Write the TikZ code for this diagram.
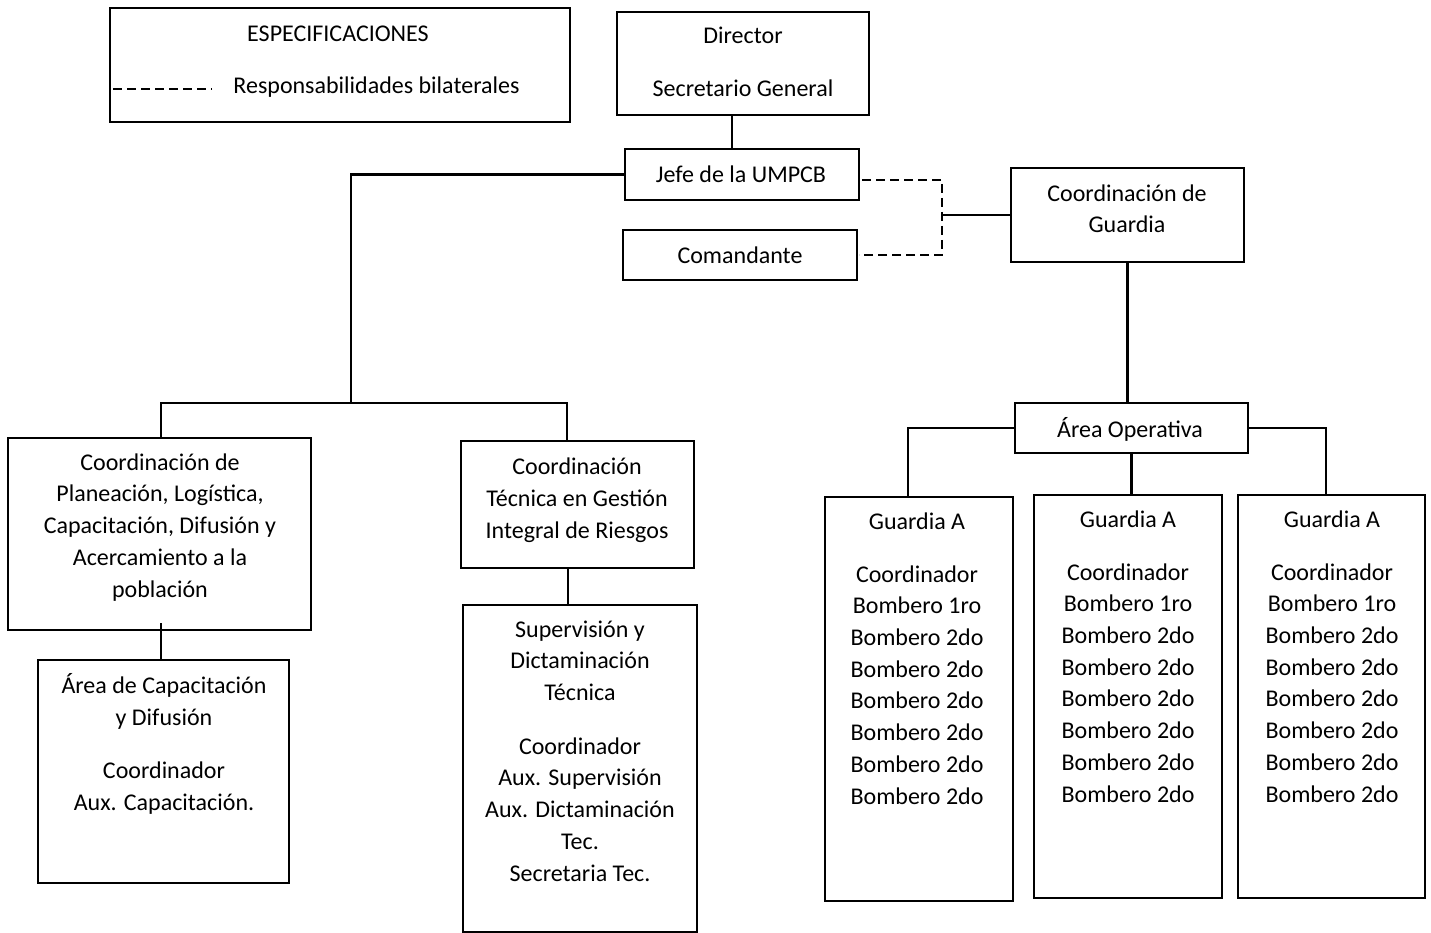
\documentclass[tikz,border=0pt]{standalone}
\usepackage{fontspec}
\setmainfont{Carlito}
\usetikzlibrary{calc}
\newcommand\mkbox[5]{\node[box, minimum width={#4-#2}, minimum height={#5-#3}] (#1) at ({(#2+#4)/2},{(#3+#5)/2}) {};}
\begin{document}
\begin{tikzpicture}[x=1pt,y=-1pt,
  box/.style={draw, line width=1.6pt, inner sep=0pt, outer sep=0pt},
  txt/.style={align=center, font=\fontsize{24}{31.7}\selectfont, inner sep=0pt, anchor=base},
  conn/.style={line width=2.2pt},
  dsh/.style={line width=1.6pt, dash pattern=on 9pt off 5pt}]
\fill[white] (0,0) rectangle (1431,933);
\useasboundingbox (0,0) rectangle (1431,933);

% boxes
\mkbox{spec}{110}{8}{570}{122}
\mkbox{dir}{617}{12}{869}{115}
\mkbox{jefe}{625}{149}{859}{200}
\mkbox{com}{623}{230}{857}{280}
\mkbox{cg}{1011}{168}{1244}{262}
\mkbox{ao}{1015}{403}{1248}{453}
\mkbox{g1}{825}{497}{1013}{901}
\mkbox{g2}{1034}{495}{1222}{898}
\mkbox{g3}{1238}{495}{1425}{898}
\mkbox{plan}{8}{438}{311}{630}
\mkbox{acap}{38}{660}{289}{883}
\mkbox{ctec}{461}{441}{694}{568}
\mkbox{sup}{463}{605}{697}{932}

% texts (anchor base = baseline of the last line)
\node[txt] (spec-t1) at (338,42) {ESPECIFICACIONES};
\node[txt] (spec-t2) at (376.5,94) {Responsabilidades bilaterales};
\node[txt] (dir-t) at (743,97) {Director\\[21.3pt]Secretario General};
\node[txt] (jefe-t) at (741,183) {Jefe de la UMPCB};
\node[txt] (com-t) at (740,263) {Comandante};
\node[txt] (cg-t) at (1127,233) {Coordinación de\\Guardia};
\node[txt] (ao-t) at (1130,437) {Área Operativa};
\node[txt] (g1-t) at (917,804) {Guardia A\\[21.3pt]Coordinador\\Bombero 1ro\\Bombero 2do\\Bombero 2do\\Bombero 2do\\Bombero 2do\\Bombero 2do\\Bombero 2do};
\node[txt] (g2-t) at (1128,802) {Guardia A\\[21.3pt]Coordinador\\Bombero 1ro\\Bombero 2do\\Bombero 2do\\Bombero 2do\\Bombero 2do\\Bombero 2do\\Bombero 2do};
\node[txt] (g3-t) at (1332,802) {Guardia A\\[21.3pt]Coordinador\\Bombero 1ro\\Bombero 2do\\Bombero 2do\\Bombero 2do\\Bombero 2do\\Bombero 2do\\Bombero 2do};
\node[txt] (plan-t) at (160,597) {Coordinación de\\Planeación, Logística,\\Capacitación, Difusión y\\Acercamiento a la\\población};
\node[txt] (acap-t) at (164,810) {Área de Capacitación\\y Difusión\\[21.3pt]Coordinador\\Aux. Capacitación.};
\node[txt] (ctec-t) at (577,538) {Coordinación\\Técnica en Gestión\\Integral de Riesgos};
\node[txt] (sup-t) at (580,881) {Supervisión y\\Dictaminación\\Técnica\\[22pt]Coordinador\\Aux. Supervisión\\Aux. Dictaminación\\Tec.\\Secretaria Tec.};

% helper coordinates
\coordinate (l1) at (113,89);
\coordinate (l2) at (212,89);
\coordinate (x732) at (732,0);
\coordinate (busL) at (351,402);
\coordinate (bus1) at (161,403);
\coordinate (bus2) at (567,403);
\coordinate (dj) at (942,180);
\coordinate (g1x) at (908,0);
\coordinate (g3x) at (1326,0);
\coordinate (x161) at (161,0);
\coordinate (x568) at (568,0);

% legend
\draw[dsh] (l1) -- (l2);

% connectors
\draw[conn] (x732 |- dir.south) -- (x732 |- jefe.north);
\draw[conn] (jefe.west) -| (busL);
\draw[conn] (bus1 |- plan.north) -- (bus1) -- (bus2) -- (bus2 |- ctec.north);
\draw[conn] ($(x161 |- plan.south)+(0,-7)$) -- (x161 |- acap.north);
\draw[conn] (x568 |- ctec.south) -- (x568 |- sup.north);
\draw[dsh] ($(jefe.east |- dj)+(3,0)$) -- (dj) -- (dj |- com.east) -- ($(com.east)+(2,0)$);
\draw[conn] (dj |- cg.west) -- (cg.west);
\draw[conn] (cg.south) -- (cg.south |- ao.north);
\draw[conn] (ao.west) -| (g1x |- g1.north);
\draw[conn] (ao.east) -| (g3x |- g3.north);
\draw[conn] (ao.south) -- (ao.south |- g2.north);
\end{tikzpicture}
\end{document}
